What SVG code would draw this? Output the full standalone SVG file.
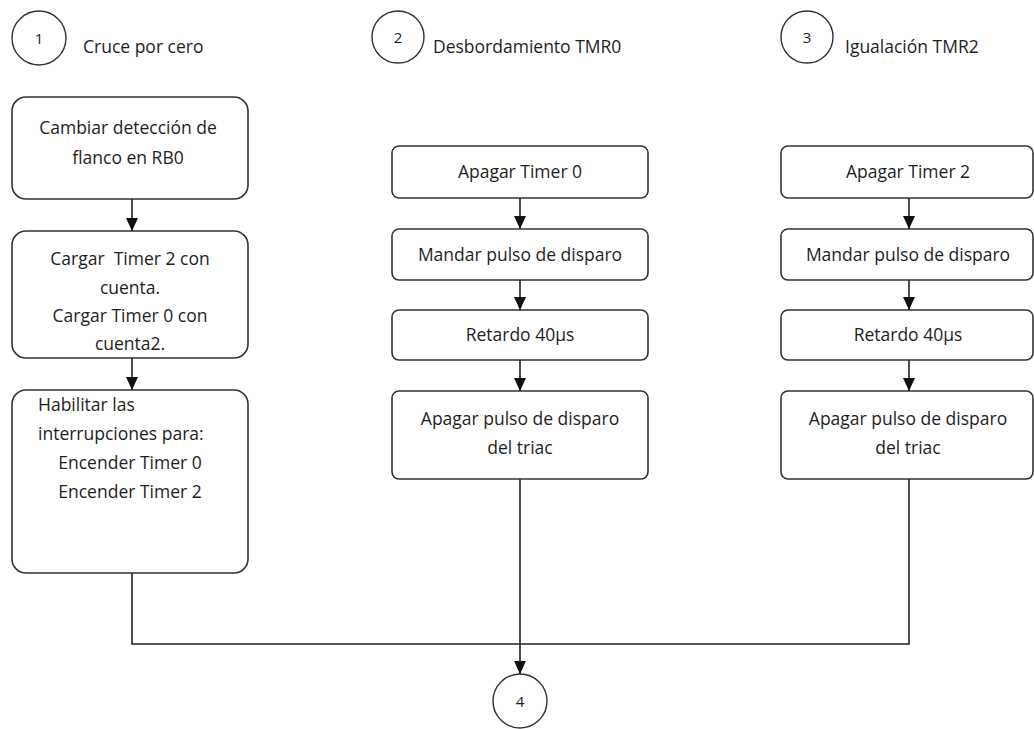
<svg xmlns="http://www.w3.org/2000/svg" width="1034" height="729" viewBox="0 0 1034 729">
  <style>
    .box { fill: #ffffff; stroke: #333333; stroke-width: 1.6; }
    .circ { fill: #ffffff; stroke: #333333; stroke-width: 1.4; }
    .lbl { font-family: "Open Sans", "Liberation Sans", sans-serif; font-size: 17.5px; fill: #1e1e1e; }
    .mid { text-anchor: middle; }
    .num { font-family: "Open Sans", "Liberation Sans", sans-serif; font-size: 15px; fill: #1e1e1e; text-anchor: middle; }
    .wire { fill: none; stroke: #222222; stroke-width: 1.6; }
  </style>
  <defs>
    <marker id="arrow" markerUnits="userSpaceOnUse" markerWidth="14" markerHeight="14" viewBox="0 0 14 14" refX="13" refY="7" orient="auto">
      <path d="M0,1 L13,7 L0,13 Z" fill="#111111"/>
    </marker>
  </defs>

  <!-- Start markers and headings -->
  <g id="start1">
    <circle class="circ" cx="39" cy="38" r="27"/>
    <text class="num" x="39" y="44">1</text>
    <text class="lbl" x="83" y="53">Cruce por cero</text>
  </g>
  <g id="start2">
    <circle class="circ" cx="398" cy="37" r="26"/>
    <text class="num" x="398" y="43">2</text>
    <text class="lbl" x="433" y="53">Desbordamiento TMR0</text>
  </g>
  <g id="start3">
    <circle class="circ" cx="807" cy="37" r="26"/>
    <text class="num" x="807" y="43">3</text>
    <text class="lbl" x="845" y="53">Igualación TMR2</text>
  </g>

  <!-- Column 1: zero crossing -->
  <g id="c1b1">
    <rect class="box" x="12" y="97" width="236" height="102" rx="14"/>
    <text class="lbl mid" x="128" y="134">Cambiar detección de</text>
    <text class="lbl mid" x="128" y="164">flanco en RB0</text>
  </g>
  <g id="c1b2">
    <rect class="box" x="12" y="231" width="236" height="127" rx="14"/>
    <text class="lbl mid" x="130" y="265" xml:space="preserve">Cargar  Timer 2 con</text>
    <text class="lbl mid" x="130" y="294">cuenta.</text>
    <text class="lbl mid" x="130" y="322">Cargar Timer 0 con</text>
    <text class="lbl mid" x="130" y="350">cuenta2.</text>
  </g>
  <g id="c1b3">
    <rect class="box" x="12" y="390" width="236" height="183" rx="14"/>
    <text class="lbl" x="38" y="411">Habilitar las</text>
    <text class="lbl" x="38" y="440">interrupciones para:</text>
    <text class="lbl mid" x="130" y="469">Encender Timer 0</text>
    <text class="lbl mid" x="130" y="498">Encender Timer 2</text>
  </g>

  <!-- Column 2: TMR0 overflow -->
  <g id="c2b1">
    <rect class="box" x="392" y="146" width="256" height="52" rx="7"/>
    <text class="lbl mid" x="520" y="178">Apagar Timer 0</text>
  </g>
  <g id="c2b2">
    <rect class="box" x="392" y="229" width="256" height="51" rx="7"/>
    <text class="lbl mid" x="520" y="261">Mandar pulso de disparo</text>
  </g>
  <g id="c2b3">
    <rect class="box" x="392" y="310" width="256" height="50" rx="7"/>
    <text class="lbl mid" x="520" y="341">Retardo 40µs</text>
  </g>
  <g id="c2b4">
    <rect class="box" x="392" y="391" width="256" height="88" rx="7"/>
    <text class="lbl mid" x="520" y="425">Apagar pulso de disparo</text>
    <text class="lbl mid" x="520" y="454">del triac</text>
  </g>

  <!-- Column 3: TMR2 match -->
  <g id="c3b1">
    <rect class="box" x="781" y="146" width="252" height="52" rx="7"/>
    <text class="lbl mid" x="908" y="178">Apagar Timer 2</text>
  </g>
  <g id="c3b2">
    <rect class="box" x="781" y="229" width="252" height="51" rx="7"/>
    <text class="lbl mid" x="908" y="261">Mandar pulso de disparo</text>
  </g>
  <g id="c3b3">
    <rect class="box" x="781" y="310" width="252" height="50" rx="7"/>
    <text class="lbl mid" x="908" y="341">Retardo 40µs</text>
  </g>
  <g id="c3b4">
    <rect class="box" x="781" y="391" width="252" height="88" rx="7"/>
    <text class="lbl mid" x="908" y="425">Apagar pulso de disparo</text>
    <text class="lbl mid" x="908" y="454">del triac</text>
  </g>

  <!-- End marker -->
  <g id="end4">
    <circle class="circ" cx="520" cy="701" r="27"/>
    <text class="num" x="520" y="707">4</text>
  </g>

  <!-- Connectors -->
  <g id="connectors">
    <line class="wire" x1="132" y1="199" x2="132" y2="231" marker-end="url(#arrow)"/>
    <line class="wire" x1="132" y1="358" x2="132" y2="390" marker-end="url(#arrow)"/>

    <line class="wire" x1="520" y1="198" x2="520" y2="229" marker-end="url(#arrow)"/>
    <line class="wire" x1="520" y1="280" x2="520" y2="310" marker-end="url(#arrow)"/>
    <line class="wire" x1="520" y1="360" x2="520" y2="391" marker-end="url(#arrow)"/>
    <line class="wire" x1="520" y1="479" x2="520" y2="674" marker-end="url(#arrow)"/>

    <line class="wire" x1="909" y1="198" x2="909" y2="229" marker-end="url(#arrow)"/>
    <line class="wire" x1="909" y1="280" x2="909" y2="310" marker-end="url(#arrow)"/>
    <line class="wire" x1="909" y1="360" x2="909" y2="391" marker-end="url(#arrow)"/>

    <polyline class="wire" points="132,573 132,644 909,644 909,479"/>
  </g>
</svg>
